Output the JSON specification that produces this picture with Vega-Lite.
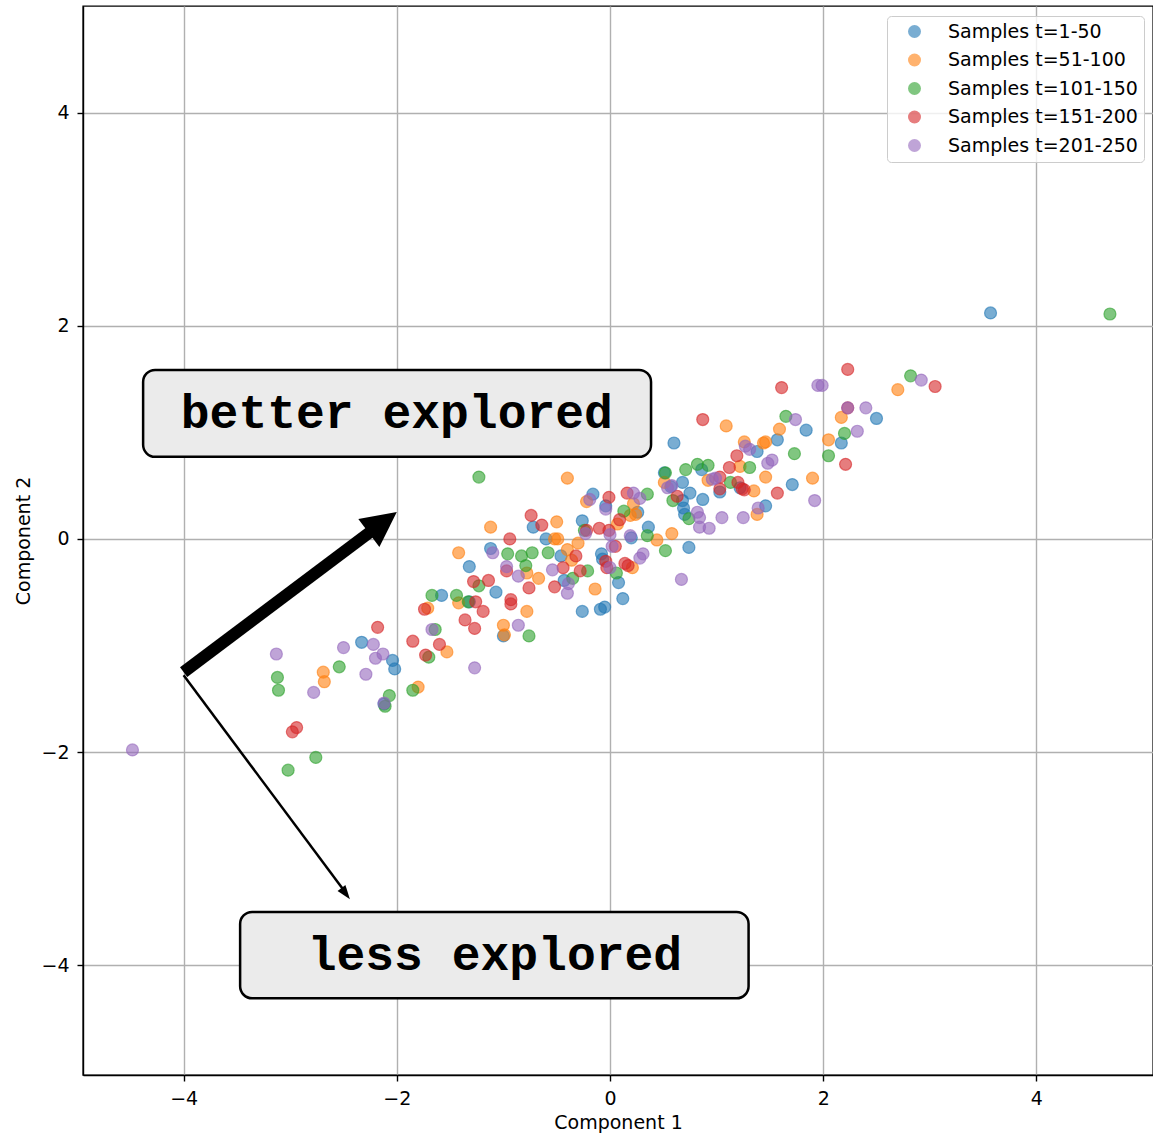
{
  "$schema": "https://vega.github.io/schema/vega-lite/v6.json",
  "autosize": {"type": "none"},
  "padding": {"left": 83, "top": 6, "right": 0, "bottom": 59},
  "width": 1070,
  "height": 1069,
  "background": "white",
  "config": {
    "view": {"stroke": "black", "strokeWidth": 1.4},
    "axis": {
      "domainColor": "black", "domainWidth": 1.4,
      "tickColor": "black", "tickWidth": 1.4, "tickSize": 6,
      "gridColor": "#b0b0b0", "gridWidth": 1.4,
      "labelFont": "DejaVu Sans", "labelFontSize": 19, "labelColor": "black",
      "titleFont": "DejaVu Sans", "titleFontSize": 19, "titleFontWeight": "normal", "titleColor": "black"
    }
  },
  "datasets": {
    "points": [
      {"x":-2.33,"y":-0.97,"s":"Samples t=1-50"},{"x":-2.04,"y":-1.14,"s":"Samples t=1-50"},{"x":-2.02,"y":-1.22,"s":"Samples t=1-50"},{"x":-2.12,"y":-1.55,"s":"Samples t=1-50"},{"x":-1.58,"y":-0.53,"s":"Samples t=1-50"},{"x":-1.32,"y":-0.26,"s":"Samples t=1-50"},{"x":-1.32,"y":-0.59,"s":"Samples t=1-50"},{"x":-1.12,"y":-0.09,"s":"Samples t=1-50"},{"x":-1.07,"y":-0.50,"s":"Samples t=1-50"},{"x":-1.00,"y":-0.91,"s":"Samples t=1-50"},{"x":-0.60,"y":0.00,"s":"Samples t=1-50"},{"x":-0.72,"y":0.11,"s":"Samples t=1-50"},{"x":-0.26,"y":0.17,"s":"Samples t=1-50"},{"x":-0.46,"y":-0.16,"s":"Samples t=1-50"},{"x":-0.43,"y":-0.39,"s":"Samples t=1-50"},{"x":-0.08,"y":-0.14,"s":"Samples t=1-50"},{"x":-0.07,"y":-0.19,"s":"Samples t=1-50"},{"x":0.08,"y":-0.41,"s":"Samples t=1-50"},{"x":0.12,"y":-0.56,"s":"Samples t=1-50"},{"x":-0.09,"y":-0.66,"s":"Samples t=1-50"},{"x":-0.05,"y":-0.64,"s":"Samples t=1-50"},{"x":-0.26,"y":-0.68,"s":"Samples t=1-50"},{"x":-0.16,"y":0.42,"s":"Samples t=1-50"},{"x":-0.04,"y":0.31,"s":"Samples t=1-50"},{"x":0.20,"y":0.01,"s":"Samples t=1-50"},{"x":0.26,"y":0.25,"s":"Samples t=1-50"},{"x":0.36,"y":0.11,"s":"Samples t=1-50"},{"x":0.60,"y":0.90,"s":"Samples t=1-50"},{"x":0.51,"y":0.62,"s":"Samples t=1-50"},{"x":0.57,"y":0.49,"s":"Samples t=1-50"},{"x":0.68,"y":0.53,"s":"Samples t=1-50"},{"x":0.75,"y":0.43,"s":"Samples t=1-50"},{"x":0.87,"y":0.37,"s":"Samples t=1-50"},{"x":0.68,"y":0.36,"s":"Samples t=1-50"},{"x":0.69,"y":0.29,"s":"Samples t=1-50"},{"x":0.70,"y":0.23,"s":"Samples t=1-50"},{"x":0.74,"y":-0.08,"s":"Samples t=1-50"},{"x":0.86,"y":0.65,"s":"Samples t=1-50"},{"x":1.03,"y":0.44,"s":"Samples t=1-50"},{"x":1.22,"y":0.48,"s":"Samples t=1-50"},{"x":1.38,"y":0.82,"s":"Samples t=1-50"},{"x":1.46,"y":0.31,"s":"Samples t=1-50"},{"x":1.57,"y":0.93,"s":"Samples t=1-50"},{"x":1.71,"y":0.51,"s":"Samples t=1-50"},{"x":1.84,"y":1.02,"s":"Samples t=1-50"},{"x":2.17,"y":0.90,"s":"Samples t=1-50"},{"x":2.50,"y":1.13,"s":"Samples t=1-50"},{"x":3.57,"y":2.12,"s":"Samples t=1-50"},
      {"x":-2.69,"y":-1.25,"s":"Samples t=51-100"},{"x":-2.68,"y":-1.34,"s":"Samples t=51-100"},{"x":-1.80,"y":-1.39,"s":"Samples t=51-100"},{"x":-1.71,"y":-0.65,"s":"Samples t=51-100"},{"x":-1.53,"y":-1.06,"s":"Samples t=51-100"},{"x":-1.42,"y":-0.13,"s":"Samples t=51-100"},{"x":-1.42,"y":-0.60,"s":"Samples t=51-100"},{"x":-1.12,"y":0.11,"s":"Samples t=51-100"},{"x":-1.00,"y":-0.81,"s":"Samples t=51-100"},{"x":-0.99,"y":-0.90,"s":"Samples t=51-100"},{"x":-0.78,"y":-0.68,"s":"Samples t=51-100"},{"x":-0.78,"y":-0.32,"s":"Samples t=51-100"},{"x":-0.67,"y":-0.37,"s":"Samples t=51-100"},{"x":-0.50,"y":0.16,"s":"Samples t=51-100"},{"x":-0.52,"y":0.00,"s":"Samples t=51-100"},{"x":-0.49,"y":0.00,"s":"Samples t=51-100"},{"x":-0.40,"y":-0.10,"s":"Samples t=51-100"},{"x":-0.36,"y":-0.20,"s":"Samples t=51-100"},{"x":-0.30,"y":-0.04,"s":"Samples t=51-100"},{"x":-0.14,"y":-0.47,"s":"Samples t=51-100"},{"x":-0.40,"y":0.57,"s":"Samples t=51-100"},{"x":-0.22,"y":0.35,"s":"Samples t=51-100"},{"x":0.07,"y":0.14,"s":"Samples t=51-100"},{"x":0.19,"y":0.22,"s":"Samples t=51-100"},{"x":0.24,"y":0.23,"s":"Samples t=51-100"},{"x":0.22,"y":0.33,"s":"Samples t=51-100"},{"x":0.21,"y":-0.27,"s":"Samples t=51-100"},{"x":0.44,"y":-0.01,"s":"Samples t=51-100"},{"x":0.58,"y":0.05,"s":"Samples t=51-100"},{"x":0.51,"y":0.53,"s":"Samples t=51-100"},{"x":0.92,"y":0.55,"s":"Samples t=51-100"},{"x":1.09,"y":1.06,"s":"Samples t=51-100"},{"x":1.22,"y":0.68,"s":"Samples t=51-100"},{"x":1.26,"y":0.91,"s":"Samples t=51-100"},{"x":1.35,"y":0.45,"s":"Samples t=51-100"},{"x":1.38,"y":0.23,"s":"Samples t=51-100"},{"x":1.44,"y":0.90,"s":"Samples t=51-100"},{"x":1.46,"y":0.91,"s":"Samples t=51-100"},{"x":1.46,"y":0.58,"s":"Samples t=51-100"},{"x":1.59,"y":1.03,"s":"Samples t=51-100"},{"x":1.90,"y":0.57,"s":"Samples t=51-100"},{"x":2.05,"y":0.93,"s":"Samples t=51-100"},{"x":2.17,"y":1.14,"s":"Samples t=51-100"},{"x":2.70,"y":1.40,"s":"Samples t=51-100"},
      {"x":-3.12,"y":-1.30,"s":"Samples t=101-150"},{"x":-3.11,"y":-1.42,"s":"Samples t=101-150"},{"x":-3.02,"y":-2.17,"s":"Samples t=101-150"},{"x":-2.76,"y":-2.05,"s":"Samples t=101-150"},{"x":-2.54,"y":-1.20,"s":"Samples t=101-150"},{"x":-2.11,"y":-1.57,"s":"Samples t=101-150"},{"x":-2.07,"y":-1.47,"s":"Samples t=101-150"},{"x":-1.85,"y":-1.42,"s":"Samples t=101-150"},{"x":-1.70,"y":-1.11,"s":"Samples t=101-150"},{"x":-1.64,"y":-0.85,"s":"Samples t=101-150"},{"x":-1.67,"y":-0.53,"s":"Samples t=101-150"},{"x":-1.44,"y":-0.53,"s":"Samples t=101-150"},{"x":-1.33,"y":-0.59,"s":"Samples t=101-150"},{"x":-1.23,"y":-0.44,"s":"Samples t=101-150"},{"x":-1.23,"y":0.58,"s":"Samples t=101-150"},{"x":-0.96,"y":-0.14,"s":"Samples t=101-150"},{"x":-0.83,"y":-0.16,"s":"Samples t=101-150"},{"x":-0.79,"y":-0.25,"s":"Samples t=101-150"},{"x":-0.76,"y":-0.91,"s":"Samples t=101-150"},{"x":-0.73,"y":-0.13,"s":"Samples t=101-150"},{"x":-0.58,"y":-0.13,"s":"Samples t=101-150"},{"x":-0.35,"y":-0.37,"s":"Samples t=101-150"},{"x":-0.21,"y":-0.30,"s":"Samples t=101-150"},{"x":-0.24,"y":0.08,"s":"Samples t=101-150"},{"x":0.06,"y":-0.32,"s":"Samples t=101-150"},{"x":0.13,"y":0.26,"s":"Samples t=101-150"},{"x":0.35,"y":0.42,"s":"Samples t=101-150"},{"x":0.35,"y":0.03,"s":"Samples t=101-150"},{"x":0.52,"y":-0.11,"s":"Samples t=101-150"},{"x":0.52,"y":0.62,"s":"Samples t=101-150"},{"x":0.59,"y":0.36,"s":"Samples t=101-150"},{"x":0.71,"y":0.65,"s":"Samples t=101-150"},{"x":0.82,"y":0.70,"s":"Samples t=101-150"},{"x":0.92,"y":0.69,"s":"Samples t=101-150"},{"x":0.74,"y":0.19,"s":"Samples t=101-150"},{"x":1.13,"y":0.53,"s":"Samples t=101-150"},{"x":1.31,"y":0.67,"s":"Samples t=101-150"},{"x":1.65,"y":1.15,"s":"Samples t=101-150"},{"x":1.73,"y":0.80,"s":"Samples t=101-150"},{"x":2.05,"y":0.78,"s":"Samples t=101-150"},{"x":2.20,"y":0.99,"s":"Samples t=101-150"},{"x":2.82,"y":1.53,"s":"Samples t=101-150"},{"x":4.69,"y":2.11,"s":"Samples t=101-150"},
      {"x":-2.98,"y":-1.81,"s":"Samples t=151-200"},{"x":-2.94,"y":-1.77,"s":"Samples t=151-200"},{"x":-2.18,"y":-0.83,"s":"Samples t=151-200"},{"x":-1.85,"y":-0.96,"s":"Samples t=151-200"},{"x":-1.74,"y":-0.66,"s":"Samples t=151-200"},{"x":-1.73,"y":-1.09,"s":"Samples t=151-200"},{"x":-1.60,"y":-0.99,"s":"Samples t=151-200"},{"x":-1.36,"y":-0.76,"s":"Samples t=151-200"},{"x":-1.27,"y":-0.84,"s":"Samples t=151-200"},{"x":-1.28,"y":-0.40,"s":"Samples t=151-200"},{"x":-1.26,"y":-0.59,"s":"Samples t=151-200"},{"x":-1.19,"y":-0.68,"s":"Samples t=151-200"},{"x":-1.14,"y":-0.39,"s":"Samples t=151-200"},{"x":-0.97,"y":-0.30,"s":"Samples t=151-200"},{"x":-0.94,"y":0.00,"s":"Samples t=151-200"},{"x":-0.93,"y":-0.57,"s":"Samples t=151-200"},{"x":-0.93,"y":-0.61,"s":"Samples t=151-200"},{"x":-0.76,"y":-0.46,"s":"Samples t=151-200"},{"x":-0.74,"y":0.22,"s":"Samples t=151-200"},{"x":-0.64,"y":0.13,"s":"Samples t=151-200"},{"x":-0.52,"y":-0.45,"s":"Samples t=151-200"},{"x":-0.44,"y":-0.27,"s":"Samples t=151-200"},{"x":-0.32,"y":-0.16,"s":"Samples t=151-200"},{"x":-0.28,"y":-0.30,"s":"Samples t=151-200"},{"x":-0.22,"y":0.08,"s":"Samples t=151-200"},{"x":-0.10,"y":0.10,"s":"Samples t=151-200"},{"x":-0.01,"y":0.39,"s":"Samples t=151-200"},{"x":-0.01,"y":0.08,"s":"Samples t=151-200"},{"x":0.05,"y":-0.07,"s":"Samples t=151-200"},{"x":-0.04,"y":-0.21,"s":"Samples t=151-200"},{"x":-0.03,"y":-0.27,"s":"Samples t=151-200"},{"x":0.14,"y":-0.23,"s":"Samples t=151-200"},{"x":0.17,"y":-0.25,"s":"Samples t=151-200"},{"x":0.09,"y":0.18,"s":"Samples t=151-200"},{"x":0.16,"y":0.43,"s":"Samples t=151-200"},{"x":0.63,"y":0.40,"s":"Samples t=151-200"},{"x":0.87,"y":1.12,"s":"Samples t=151-200"},{"x":1.03,"y":0.58,"s":"Samples t=151-200"},{"x":1.03,"y":0.47,"s":"Samples t=151-200"},{"x":1.12,"y":0.67,"s":"Samples t=151-200"},{"x":1.19,"y":0.78,"s":"Samples t=151-200"},{"x":1.20,"y":0.53,"s":"Samples t=151-200"},{"x":1.24,"y":0.47,"s":"Samples t=151-200"},{"x":1.26,"y":0.46,"s":"Samples t=151-200"},{"x":1.57,"y":0.43,"s":"Samples t=151-200"},{"x":1.61,"y":1.42,"s":"Samples t=151-200"},{"x":2.21,"y":0.70,"s":"Samples t=151-200"},{"x":2.23,"y":1.59,"s":"Samples t=151-200"},{"x":3.05,"y":1.43,"s":"Samples t=151-200"},{"x":2.23,"y":1.23,"s":"Samples t=151-200"},
      {"x":-4.48,"y":-1.98,"s":"Samples t=201-250"},{"x":-3.13,"y":-1.08,"s":"Samples t=201-250"},{"x":-2.78,"y":-1.44,"s":"Samples t=201-250"},{"x":-2.50,"y":-1.02,"s":"Samples t=201-250"},{"x":-2.29,"y":-1.27,"s":"Samples t=201-250"},{"x":-2.22,"y":-0.99,"s":"Samples t=201-250"},{"x":-2.20,"y":-1.12,"s":"Samples t=201-250"},{"x":-2.13,"y":-1.08,"s":"Samples t=201-250"},{"x":-2.12,"y":-1.54,"s":"Samples t=201-250"},{"x":-1.67,"y":-0.85,"s":"Samples t=201-250"},{"x":-1.27,"y":-1.21,"s":"Samples t=201-250"},{"x":-1.10,"y":-0.13,"s":"Samples t=201-250"},{"x":-0.97,"y":-0.26,"s":"Samples t=201-250"},{"x":-0.86,"y":-0.35,"s":"Samples t=201-250"},{"x":-0.86,"y":-0.81,"s":"Samples t=201-250"},{"x":-0.54,"y":-0.29,"s":"Samples t=201-250"},{"x":-0.39,"y":-0.42,"s":"Samples t=201-250"},{"x":-0.40,"y":-0.51,"s":"Samples t=201-250"},{"x":-0.23,"y":0.05,"s":"Samples t=201-250"},{"x":-0.19,"y":0.37,"s":"Samples t=201-250"},{"x":-0.04,"y":0.28,"s":"Samples t=201-250"},{"x":0.00,"y":0.04,"s":"Samples t=201-250"},{"x":0.02,"y":-0.07,"s":"Samples t=201-250"},{"x":0.00,"y":-0.27,"s":"Samples t=201-250"},{"x":0.19,"y":0.03,"s":"Samples t=201-250"},{"x":0.22,"y":0.43,"s":"Samples t=201-250"},{"x":0.28,"y":0.38,"s":"Samples t=201-250"},{"x":0.28,"y":-0.18,"s":"Samples t=201-250"},{"x":0.31,"y":-0.14,"s":"Samples t=201-250"},{"x":0.54,"y":0.48,"s":"Samples t=201-250"},{"x":0.58,"y":0.50,"s":"Samples t=201-250"},{"x":0.67,"y":-0.38,"s":"Samples t=201-250"},{"x":0.82,"y":0.25,"s":"Samples t=201-250"},{"x":0.84,"y":0.20,"s":"Samples t=201-250"},{"x":0.84,"y":0.11,"s":"Samples t=201-250"},{"x":0.93,"y":0.10,"s":"Samples t=201-250"},{"x":0.96,"y":0.56,"s":"Samples t=201-250"},{"x":0.99,"y":0.57,"s":"Samples t=201-250"},{"x":1.05,"y":0.20,"s":"Samples t=201-250"},{"x":1.25,"y":0.20,"s":"Samples t=201-250"},{"x":1.27,"y":0.87,"s":"Samples t=201-250"},{"x":1.31,"y":0.84,"s":"Samples t=201-250"},{"x":1.39,"y":0.29,"s":"Samples t=201-250"},{"x":1.48,"y":0.71,"s":"Samples t=201-250"},{"x":1.52,"y":0.74,"s":"Samples t=201-250"},{"x":1.74,"y":1.12,"s":"Samples t=201-250"},{"x":1.92,"y":0.36,"s":"Samples t=201-250"},{"x":1.95,"y":1.44,"s":"Samples t=201-250"},{"x":1.99,"y":1.44,"s":"Samples t=201-250"},{"x":2.23,"y":1.23,"s":"Samples t=201-250"},{"x":2.32,"y":1.01,"s":"Samples t=201-250"},{"x":2.40,"y":1.23,"s":"Samples t=201-250"},{"x":2.92,"y":1.49,"s":"Samples t=201-250"}
    ],
    "boxes": [
      {"x": -4.38, "x2": 0.385, "y": 1.585, "y2": 0.77},
      {"x": -3.47, "x2": 1.30, "y": -3.50, "y2": -4.31}
    ],
    "labels": [
      {"x": -2.0, "y": 1.17, "text": "better explored"},
      {"x": -1.08, "y": -3.91, "text": "less explored"}
    ],
    "thickShaft": [{"x": -4.0, "y": -1.25, "x2": -2.15, "y2": 0.14}],
    "thickHead": [{"x": -2.0, "y": 0.253}],
    "thinShaft": [{"x": -4.0, "y": -1.28, "x2": -2.48, "y2": -3.32}],
    "thinHead": [{"x": -2.44, "y": -3.38}]
  },
  "encoding": {
    "x": {
      "field": "x", "type": "quantitative",
      "scale": {"domain": [-4.944, 5.094], "nice": false, "zero": false},
      "axis": {"values": [-4, -2, 0, 2, 4], "labelPadding": 8, "titlePadding": 5},
      "title": "Component 1"
    },
    "y": {
      "field": "y", "type": "quantitative",
      "scale": {"domain": [-5.03, 5.0], "nice": false, "zero": false},
      "axis": {"values": [-4, -2, 0, 2, 4], "labelPadding": 8, "titlePadding": 7},
      "title": "Component 2"
    }
  },
  "layer": [
    {
      "data": {"name": "points"},
      "mark": {"type": "point", "shape": "circle", "filled": true, "size": 144, "fillOpacity": 0.6, "strokeOpacity": 0.6, "strokeWidth": 1.2},
      "encoding": {
        "color": {
          "field": "s", "type": "nominal",
          "scale": {
            "domain": ["Samples t=1-50", "Samples t=51-100", "Samples t=101-150", "Samples t=151-200", "Samples t=201-250"],
            "range": ["#1f77b4", "#ff7f0e", "#2ca02c", "#d62728", "#9467bd"]
          },
          "legend": {
            "title": null, "orient": "none", "legendX": 804, "legendY": 10,
            "padding": 6, "fillColor": "rgba(255,255,255,0.8)", "strokeColor": "#cccccc", "cornerRadius": 4,
            "symbolType": "circle", "symbolSize": 169, "symbolOffset": 12, "symbolOpacity": 0.6, "symbolStrokeWidth": 0,
            "labelFont": "DejaVu Sans", "labelFontSize": 19, "labelColor": "black", "labelOffset": 24,
            "rowPadding": 8.5, "labelLimit": 400
          }
        },
        "stroke": {
          "field": "s", "type": "nominal",
          "scale": {
            "domain": ["Samples t=1-50", "Samples t=51-100", "Samples t=101-150", "Samples t=151-200", "Samples t=201-250"],
            "range": ["#1f77b4", "#ff7f0e", "#2ca02c", "#d62728", "#9467bd"]
          },
          "legend": null
        }
      }
    },
    {
      "data": {"name": "thickShaft"},
      "mark": {"type": "rule", "color": "black", "strokeWidth": 12, "strokeCap": "butt"},
      "encoding": {"x2": {"field": "x2"}, "y2": {"field": "y2"}}
    },
    {
      "data": {"name": "thickHead"},
      "mark": {"type": "point", "shape": "M0,0L-1,2L1,2Z", "size": 1225, "angle": 53, "filled": true, "color": "black", "opacity": 1, "strokeWidth": 0}
    },
    {
      "data": {"name": "thinShaft"},
      "mark": {"type": "rule", "color": "black", "strokeWidth": 2.5, "strokeCap": "butt"},
      "encoding": {"x2": {"field": "x2"}, "y2": {"field": "y2"}}
    },
    {
      "data": {"name": "thinHead"},
      "mark": {"type": "point", "shape": "M0,0L-0.7,2L0.7,2Z", "size": 196, "angle": 143, "filled": true, "color": "black", "opacity": 1, "strokeWidth": 0}
    },
    {
      "data": {"name": "boxes"},
      "mark": {"type": "rect", "fill": "#ebebeb", "stroke": "black", "strokeWidth": 2.5, "cornerRadius": 12},
      "encoding": {"x2": {"field": "x2"}, "y2": {"field": "y2"}}
    },
    {
      "data": {"name": "labels"},
      "mark": {"type": "text", "font": "Liberation Mono", "fontWeight": "bold", "fontSize": 48, "align": "center", "baseline": "middle", "color": "black"},
      "encoding": {"text": {"field": "text"}}
    }
  ]
}
